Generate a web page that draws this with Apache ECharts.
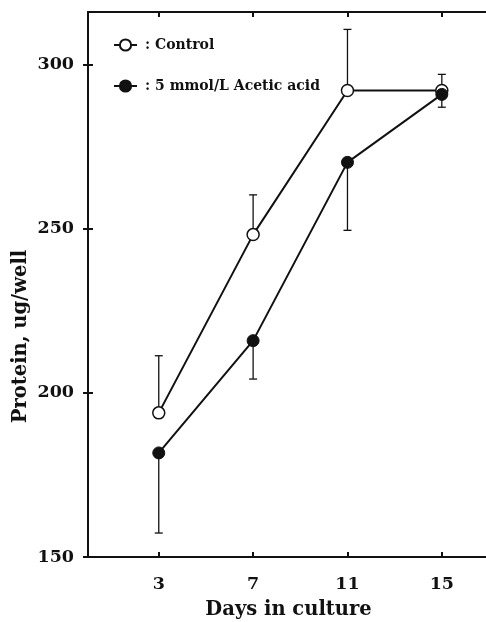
<!DOCTYPE html>
<html>
<head>
<meta charset="utf-8">
<script src="https://cdn.jsdelivr.net/npm/echarts@6/dist/echarts.min.js"></script>
<style>
html,body{margin:0;padding:0;background:#fff;}
#chart{width:486px;height:622px;}
</style>
</head>
<body>
<div id="chart"></div>
<script>
var days = [3, 7, 11, 15];
var controlMean = [193.9, 248.2, 292.1, 292.1];
var controlErrTop = [211.3, 260.3, 310.7, 297.0];
var acidMean = [181.7, 215.9, 270.2, 290.9];
var acidErrBottom = [157.3, 204.2, 249.5, 287.0];
var xTicks = [3, 7, 11, 15];
var yTicks = [150, 200, 250, 300];
var seriesNames = ['Control', '5 mmol/L Acetic acid'];

var FONT = 'DejaVu Serif';

function pairs(xs, ys) { return xs.map(function (x, i) { return [x, ys[i]]; }); }
function errData(xs, a, b) { return xs.map(function (x, i) { return [x, a[i], b[i]]; }); }

function errRender(params, api) {
  var x = api.value(0);
  var p1 = api.coord([x, api.value(1)]);
  var p2 = api.coord([x, api.value(2)]);
  var cap = 4;
  var style = { stroke: '#111', lineWidth: 1.3 };
  return {
    type: 'group',
    children: [
      { type: 'line', shape: { x1: p1[0], y1: p1[1], x2: p2[0], y2: p2[1] }, style: style },
      { type: 'line', shape: { x1: p2[0] - cap, y1: p2[1], x2: p2[0] + cap, y2: p2[1] }, style: style }
    ]
  };
}

var chart = echarts.init(document.getElementById('chart'));
var axisLine = { show: true, lineStyle: { color: '#111', width: 2 } };
var tickStyle = { show: true, inside: true, length: 5, lineStyle: { color: '#111', width: 2 } };
var labelFont = { fontFamily: FONT, fontWeight: 'bold', fontSize: 17.5, color: '#111' };
var titleFont = { fontFamily: FONT, fontWeight: 'bold', fontSize: 19.5, color: '#111' };

chart.setOption({
  animation: false,
  backgroundColor: '#fff',
  grid: { left: 88, top: 12, width: 401, height: 545, containLabel: false, outerBoundsMode: 'none' },
  legend: {
    orient: 'vertical',
    left: 108,
    top: 33,
    itemWidth: 23,
    itemHeight: 14,
    itemGap: 27,
    data: seriesNames,
    formatter: ': {name}',
    textStyle: { fontFamily: FONT, fontWeight: 'bold', fontSize: 14, color: '#111', padding: [0, 0, 0, 3] }
  },
  xAxis: [{
    type: 'value', min: 0, max: 17, position: 'bottom',
    axisLine: axisLine,
    axisTick: Object.assign({ customValues: xTicks }, tickStyle),
    axisLabel: Object.assign({ customValues: xTicks, margin: 18 }, labelFont),
    splitLine: { show: false },
    name: 'Days in culture', nameLocation: 'middle', nameGap: 43,
    nameTextStyle: titleFont
  }, {
    type: 'value', min: 0, max: 17, position: 'top',
    axisLine: axisLine,
    axisTick: Object.assign({ customValues: xTicks }, tickStyle),
    axisLabel: { show: false },
    splitLine: { show: false }
  }],
  yAxis: [{
    type: 'value', min: 150, max: 316, position: 'left',
    axisLine: axisLine,
    axisTick: Object.assign({ customValues: yTicks }, tickStyle),
    axisLabel: Object.assign({ customValues: yTicks, margin: 14 }, labelFont),
    splitLine: { show: false },
    name: 'Protein, ug/well', nameLocation: 'middle', nameGap: 57, nameRotate: 90,
    nameMoveOverlap: false,
    nameTextStyle: Object.assign({ padding: [0, 104, 0, 0] }, titleFont)
  }, {
    type: 'value', min: 150, max: 316, position: 'right',
    axisLine: axisLine,
    axisTick: Object.assign({ customValues: yTicks }, tickStyle),
    axisLabel: { show: false },
    splitLine: { show: false }
  }],
  series: [
    {
      type: 'custom', name: 'errC', renderItem: errRender, z: 1,
      data: errData(days, controlMean, controlErrTop), encode: { x: 0, y: [1, 2] }
    },
    {
      type: 'custom', name: 'errA', renderItem: errRender, z: 1,
      data: errData(days, acidMean, acidErrBottom), encode: { x: 0, y: [1, 2] }
    },
    {
      type: 'line', name: seriesNames[0], data: pairs(days, controlMean), z: 3,
      symbol: 'circle', symbolSize: 12, showAllSymbol: true,
      lineStyle: { color: '#111', width: 2 },
      itemStyle: { color: '#fff', borderColor: '#111', borderWidth: 1.5 }
    },
    {
      type: 'line', name: seriesNames[1], data: pairs(days, acidMean), z: 4,
      symbol: 'circle', symbolSize: 12, showAllSymbol: true,
      lineStyle: { color: '#111', width: 2 },
      itemStyle: { color: '#111', borderColor: '#111', borderWidth: 1 }
    }
  ]
});
</script>
</body>
</html>
